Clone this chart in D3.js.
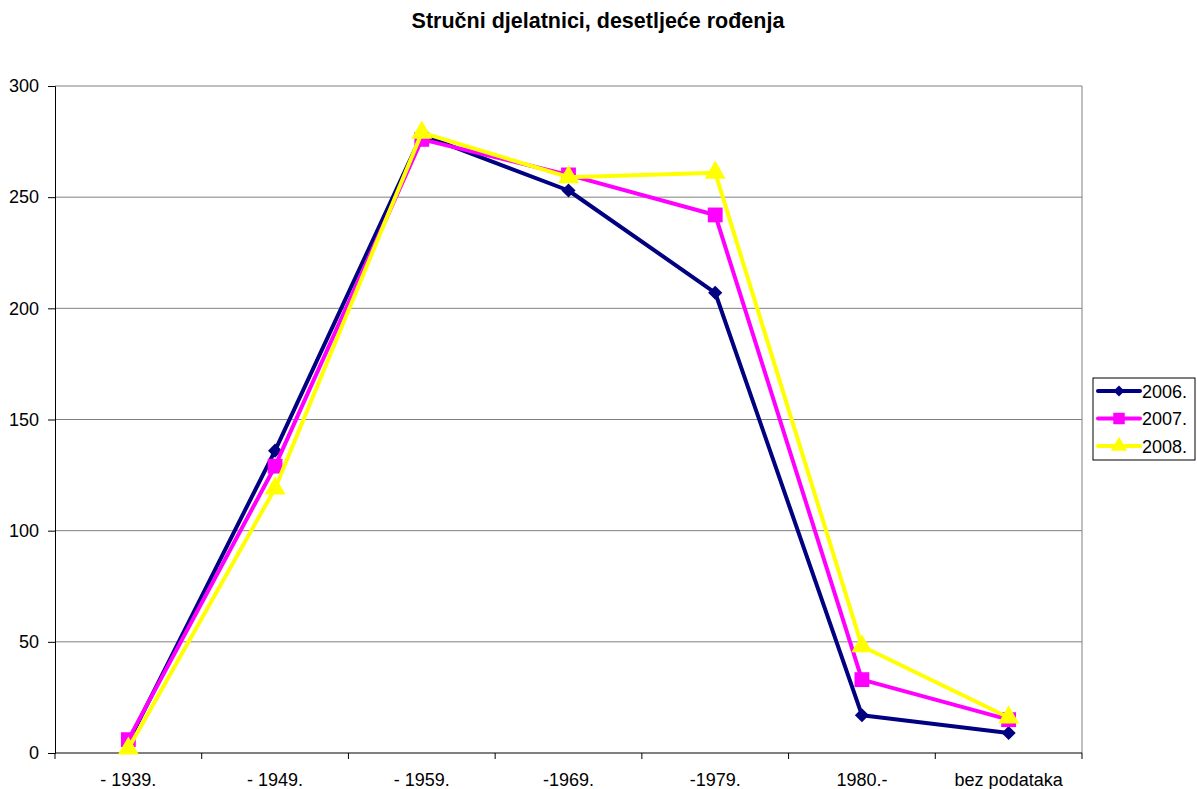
<!DOCTYPE html>
<html>
<head>
<meta charset="utf-8">
<script src="https://cdn.jsdelivr.net/npm/d3@7"></script>
<style>
  body { margin: 0; background: #fff; }
  svg { font-family: 'Liberation Sans', Arial, sans-serif; }
</style>
</head>
<body>
<div id="chart"></div>
<script>
// podaci
const categories = ['- 1939.', '- 1949.', '- 1959.', '-1969.', '-1979.', '1980.-', 'bez podataka'];
const seriesNames = ['2006.', '2007.', '2008.'];
const values2006 = [5, 136, 278, 253, 207, 17, 9];
const values2007 = [6, 129, 276, 260, 242, 33, 15];
const values2008 = [2, 119, 279, 259, 261, 48, 16];
const yTicks = [0, 50, 100, 150, 200, 250, 300];

const series = [
  { name: seriesNames[0], values: values2006, color: '#000080', symbol: d3.symbolSquare, size: 100, rot: 45 },
  { name: seriesNames[1], values: values2007, color: '#FF00FF', symbol: d3.symbolSquare, size: 220, rot: 0 },
  { name: seriesNames[2], values: values2008, color: '#FFFF00', symbol: d3.symbolTriangle, size: 190, rot: 0 }
];

const W = 1197, H = 789;
const margin = { top: 86, right: 115, bottom: 36, left: 55 };
const width = W - margin.left - margin.right;
const height = H - margin.top - margin.bottom;

const svg = d3.select('#chart').append('svg')
  .attr('width', W).attr('height', H);

svg.append('text')
  .attr('x', 598).attr('y', 28)
  .attr('text-anchor', 'middle')
  .style('font-size', '21.5px').style('font-weight', 'bold')
  .text('Stručni djelatnici, desetljeće rođenja');

const g = svg.append('g').attr('transform', `translate(${margin.left},${margin.top})`);

const x = d3.scaleBand().domain(categories).range([0, width]);
const y = d3.scaleLinear().domain([0, 300]).range([height, 0]);

// mreža
g.selectAll('.grid').data(yTicks.filter(d => d > 0)).enter()
  .append('line')
    .attr('x1', 0).attr('x2', width)
    .attr('y1', d => y(d)).attr('y2', d => y(d))
    .attr('stroke', '#808080').attr('stroke-width', 1);

// okvir desno
g.append('line')
  .attr('x1', width).attr('x2', width)
  .attr('y1', 0).attr('y2', height)
  .attr('stroke', '#808080');

// osi
const yAxis = g.append('g')
  .call(d3.axisLeft(y).tickValues(yTicks).tickSize(7).tickPadding(9).tickFormat(d3.format('d')));
yAxis.selectAll('text').style('font-size', '18px').attr('fill', '#000');
yAxis.select('.domain').attr('stroke', '#000');

const xAxis = g.append('g').attr('transform', `translate(0,${height})`);
xAxis.append('line').attr('x1', 0).attr('x2', width).attr('stroke', '#000');
xAxis.selectAll('.tick').data(d3.range(categories.length + 1)).enter()
  .append('line')
    .attr('x1', i => i * x.bandwidth()).attr('x2', i => i * x.bandwidth())
    .attr('y1', 0).attr('y2', 6).attr('stroke', '#000');
xAxis.selectAll('.lbl').data(categories).enter()
  .append('text')
    .attr('x', d => x(d) + x.bandwidth() / 2).attr('y', 33)
    .attr('text-anchor', 'middle')
    .style('font-size', '18px')
    .text(d => d);

// linije
const line = d3.line()
  .x((d, i) => x(categories[i]) + x.bandwidth() / 2)
  .y(d => y(d));

series.forEach(s => {
  g.append('path')
    .datum(s.values)
    .attr('d', line)
    .attr('fill', 'none')
    .attr('stroke', s.color)
    .attr('stroke-width', 4)
    .attr('stroke-linejoin', 'round');
  g.selectAll(null).data(s.values).enter()
    .append('path')
      .attr('transform', (d, i) => `translate(${x(categories[i]) + x.bandwidth() / 2},${y(d)}) rotate(${s.rot})`)
      .attr('d', d3.symbol().type(s.symbol).size(s.size))
      .attr('fill', s.color);
});

// legenda
const lg = svg.append('g').attr('transform', 'translate(1093,378)');
lg.append('rect').attr('width', 102).attr('height', 82)
  .attr('fill', '#fff').attr('stroke', '#000');
series.forEach((s, i) => {
  const row = lg.append('g').attr('transform', `translate(0,${13 + i * 27.5})`);
  row.append('line').attr('x1', 5).attr('x2', 47).attr('stroke', s.color)
    .attr('stroke-width', 4).attr('stroke-linecap', 'round');
  row.append('path').attr('transform', `translate(26,0) rotate(${s.rot})`)
    .attr('d', d3.symbol().type(s.symbol).size(s.size * 0.6)).attr('fill', s.color);
  row.append('text').attr('x', 49).attr('y', 6.5).style('font-size', '18px').text(s.name);
});
</script>
</body>
</html>
